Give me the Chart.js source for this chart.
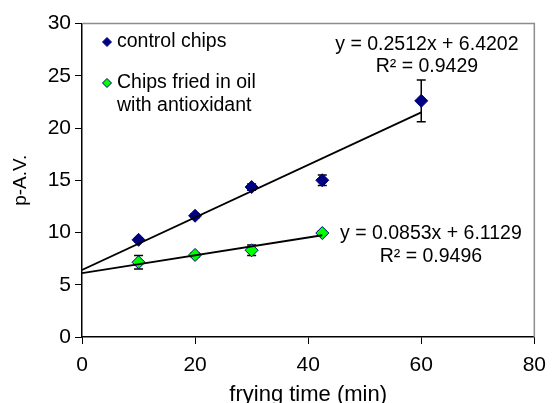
<!DOCTYPE html>
<html>
<head>
<meta charset="utf-8">
<script src="https://cdn.jsdelivr.net/npm/chart.js@4/dist/chart.umd.min.js"></script>
<style>
  html, body { margin: 0; padding: 0; background: #fff; }
</style>
</head>
<body>
<canvas id="c" width="555" height="403"></canvas>
<script>
// frying time (min) and p-A.V.
const ctrlX = [10, 20, 30, 42.5, 60];
const ctrlY = [9.3, 11.6, 14.35, 15.0, 22.6];
const ctrlErr = [0.2, 0.2, 0.3, 0.5, 2.0];

const antiX = [10, 20, 30, 42.5];
const antiY = [7.15, 7.85, 8.3, 9.95];
const antiErr = [0.65, 0.2, 0.5, 0.2];

// linear trendlines as printed on the chart
const ctrlFit = { slope: 0.2512, intercept: 6.4202, xEnd: 60 };
const antiFit = { slope: 0.0853, intercept: 6.1129, xEnd: 42.5 };

const seriesNames = ['control chips', ['Chips fried in oil', 'with antioxidant']];
const ctrlEq = ['y = 0.2512x + 6.4202', 'R\u00b2 = 0.9429'];
const antiEq = ['y = 0.0853x + 6.1129', 'R\u00b2 = 0.9496'];

const xTicks = [0, 20, 40, 60, 80];
const yTicks = [0, 5, 10, 15, 20, 25, 30];
const xTitle = 'frying time (min)';
const yTitle = 'p-A.V.';

const FONT = "'Liberation Sans', Arial, sans-serif";
const NAVY = '#000080';
const GREEN = '#00ff00';

const pts = (xs, ys) => xs.map((x, i) => ({ x: x, y: ys[i] }));
const fitLine = f => [{ x: 0, y: f.intercept }, { x: f.xEnd, y: f.slope * f.xEnd + f.intercept }];

const errorBars = {
  id: 'errorBars',
  beforeDatasetsDraw(chart) {
    const { ctx, scales: { x, y } } = chart;
    ctx.save();
    ctx.strokeStyle = '#000';
    ctx.lineWidth = 1.5;
    [[ctrlX, ctrlY, ctrlErr], [antiX, antiY, antiErr]].forEach(([xs, ys, es]) => {
      xs.forEach((xv, i) => {
        const px = x.getPixelForValue(xv);
        const top = y.getPixelForValue(ys[i] + es[i]);
        const bot = y.getPixelForValue(ys[i] - es[i]);
        ctx.beginPath();
        ctx.moveTo(px, top); ctx.lineTo(px, bot);
        ctx.moveTo(px - 4.5, top); ctx.lineTo(px + 4.5, top);
        ctx.moveTo(px - 4.5, bot); ctx.lineTo(px + 4.5, bot);
        ctx.stroke();
      });
    });
    ctx.restore();
  }
};

const extras = {
  id: 'extras',
  afterDraw(chart) {
    const { ctx, chartArea: a, scales: { x, y } } = chart;
    ctx.save();
    // grey plot-area frame on top and right
    ctx.strokeStyle = '#8c8c8c';
    ctx.lineWidth = 1.5;
    ctx.beginPath();
    ctx.moveTo(a.left, a.top); ctx.lineTo(a.right, a.top); ctx.lineTo(a.right, a.bottom);
    ctx.stroke();

    // trendline equations
    ctx.fillStyle = '#000';
    ctx.font = '19.5px ' + FONT;
    ctx.textAlign = 'center';
    ctx.textBaseline = 'middle';
    ctx.fillText(ctrlEq[0], x.getPixelForValue(61), y.getPixelForValue(28.0));
    ctx.fillText(ctrlEq[1], x.getPixelForValue(61), y.getPixelForValue(25.9));
    ctx.fillText(antiEq[0], x.getPixelForValue(61.7), y.getPixelForValue(9.94));
    ctx.fillText(antiEq[1], x.getPixelForValue(61.7), y.getPixelForValue(7.65));

    // legend
    const mx = a.left + 25, tx = a.left + 35;
    const rows = [a.top + 18.5, a.top + 59.5];
    const fills = [NAVY, GREEN];
    rows.forEach((ry, i) => {
      ctx.fillStyle = fills[i];
      ctx.strokeStyle = NAVY;
      ctx.lineWidth = 1;
      ctx.beginPath();
      ctx.moveTo(mx, ry - 4.5); ctx.lineTo(mx + 4.5, ry);
      ctx.lineTo(mx, ry + 4.5); ctx.lineTo(mx - 4.5, ry);
      ctx.closePath();
      ctx.fill(); ctx.stroke();
    });
    ctx.fillStyle = '#000';
    ctx.textAlign = 'left';
    ctx.fillText(seriesNames[0], tx, rows[0]);
    ctx.fillText(seriesNames[1][0], tx, rows[1]);
    ctx.fillText(seriesNames[1][1], tx, rows[1] + 22.5);
    ctx.restore();
  }
};

new Chart(document.getElementById('c'), {
  type: 'scatter',
  data: {
    datasets: [
      { data: fitLine(ctrlFit), showLine: true, borderColor: '#000', borderWidth: 1.8, pointRadius: 0, pointHoverRadius: 0 },
      { data: fitLine(antiFit), showLine: true, borderColor: '#000', borderWidth: 1.8, pointRadius: 0, pointHoverRadius: 0 },
      { label: seriesNames[0], data: pts(ctrlX, ctrlY), pointStyle: 'rectRot', pointRadius: 6.5,
        backgroundColor: NAVY, borderColor: NAVY, borderWidth: 1 },
      { label: seriesNames[1].join(' '), data: pts(antiX, antiY), pointStyle: 'rectRot', pointRadius: 6.5,
        backgroundColor: GREEN, borderColor: NAVY, borderWidth: 1 }
    ]
  },
  options: {
    responsive: false,
    animation: false,
    events: [],
    layout: { padding: { left: 0, top: 23.5, right: 12, bottom: 0 } },
    plugins: { legend: { display: false }, tooltip: { enabled: false } },
    scales: {
      x: {
        type: 'linear', min: 0, max: 80,
        afterBuildTicks: s => { s.ticks = xTicks.map(v => ({ value: v })); },
        afterFit: s => { s.height = 66; },
        ticks: { color: '#000', padding: 9, font: { family: FONT, size: 21 } },
        grid: { drawOnChartArea: false, drawTicks: true, tickLength: 7, color: '#000', lineWidth: 1 },
        border: { color: '#000', width: 1.5 },
        title: { display: true, text: xTitle, color: '#000', padding: { top: 0, bottom: -5 },
                 font: { family: FONT, size: 22 } }
      },
      y: {
        type: 'linear', min: 0, max: 30,
        afterBuildTicks: s => { s.ticks = yTicks.map(v => ({ value: v })); },
        afterFit: s => { s.width = 82; },
        ticks: { color: '#000', padding: 4, font: { family: FONT, size: 21 } },
        grid: { drawOnChartArea: false, drawTicks: true, tickLength: 7, color: '#000', lineWidth: 1 },
        border: { color: '#000', width: 1.5 },
        title: { display: true, text: yTitle, color: '#000', padding: { top: 9, bottom: 0 },
                 font: { family: FONT, size: 19 } }
      }
    }
  },
  plugins: [errorBars, extras]
});
</script>
</body>
</html>
